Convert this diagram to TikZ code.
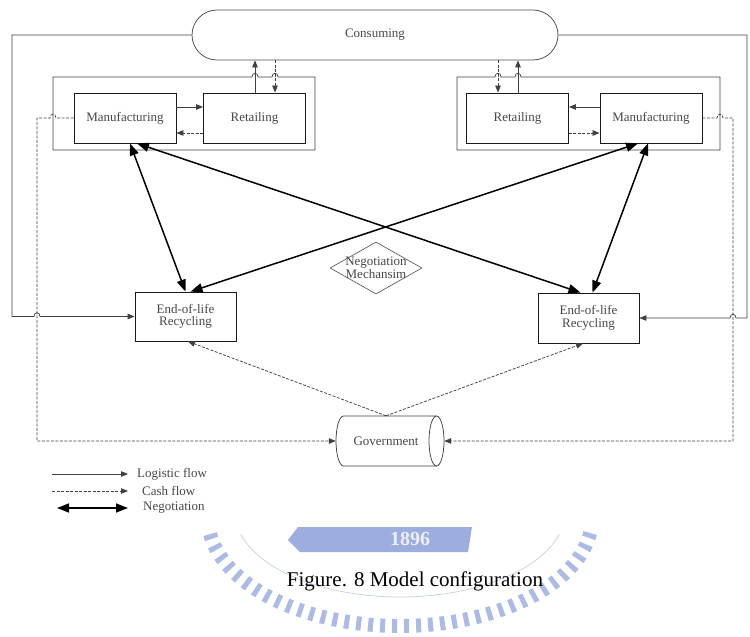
\documentclass[tikz,border=0pt]{standalone}
\usepackage{fontspec}
\setmainfont{Liberation Serif}
\usetikzlibrary{arrows.meta,shapes.geometric}
\definecolor{wmblue}{RGB}{105,130,205}
\begin{document}
\begin{tikzpicture}[x=1pt,y=-1pt,
  ln/.style={draw=black!75, line width=0.75pt},
  txt/.style={text=black!72, font=\fontsize{13}{12.5}\selectfont},
  box/.style={draw=black!90, line width=0.8pt, inner sep=0pt, txt, align=center, minimum width=102pt, minimum height=50pt},
  logi/.style={ln, -{Triangle[length=7pt,width=5.5pt]}},
  cash/.style={ln, dash pattern=on 3pt off 1.5pt, -{Triangle[length=7pt,width=5.5pt]}},
  nego/.style={draw=black, line width=1.5pt, {Triangle[length=12pt,width=9pt]}-{Triangle[length=12pt,width=9pt]}},
]
\useasboundingbox (0,0) rectangle (750,637);

% watermark
\begin{scope}
  \clip (0,527) rectangle (750,637);
  \draw[wmblue, opacity=0.55, line width=14pt, dash pattern=on 5pt off 7pt]
    plot[domain=8:172, samples=80, variable=\t] ({400+192*cos(\t)}, {518+108*sin(\t)});
  \draw[wmblue, opacity=0.35, line width=0.8pt]
    plot[domain=15:165, samples=60, variable=\t] ({400+165*cos(\t)}, {512+85*sin(\t)});
  \fill[wmblue, opacity=0.65] (298,527) -- (472,527) -- (468,552) -- (300,552) -- (288,540) -- cycle;
  \node[text=white, opacity=0.8, font=\bfseries\fontsize{20}{20}\selectfont] (wmtxt) at (410,539) {1896};
\end{scope}

% nodes
\node[draw=black!70, line width=0.75pt, rounded corners=25pt, minimum width=366pt, minimum height=50pt, txt] (cons) at (375,35) {Consuming};
\node[box] (manL) at (125,118) {Manufacturing};
\node[box] (retL) at (254.5,118) {Retailing};
\node[box] (retR) at (517.5,118) {Retailing};
\node[box] (manR) at (651,118) {Manufacturing};
\node[box, minimum width=101pt, minimum height=49pt] (recL) at (185.5,316.5) {End-of-life\\Recycling};
\node[box, minimum width=101pt, minimum height=50pt] (recR) at (588.5,318) {End-of-life\\Recycling};
\node[diamond, draw=black!70, line width=0.6pt, minimum width=92pt, minimum height=52pt, inner sep=0pt] (negm) at (376,268) {};
\node[txt, align=center, inner sep=0pt] (negt) at (376,268) {Negotiation\\Mechansim};
\node[minimum width=108pt, minimum height=50pt, inner sep=0pt, txt] (gov) at (390,441) {\hspace*{-8pt}Government};

% government cylinder
\draw[ln] (436.5,416) -- (343.5,416) .. controls (339.4,416) and (336,427.2) .. (336,441)
  .. controls (336,454.8) and (339.4,466) .. (343.5,466) -- (436.5,466);
\draw[ln] (436.5,441) ellipse [x radius=7.5pt, y radius=25pt];

% outer boxes with jumps
\draw[ln] (53,77) -- (252,77) .. controls (252,72) and (258,72) .. (258,77)
  -- (272,77) .. controls (272,72) and (278,72) .. (278,77) -- (315,77) -- (315,150) -- (53,150) -- cycle;
\draw[ln] (457,77) -- (495,77) .. controls (495,72) and (501,72) .. (501,77)
  -- (515,77) .. controls (515,72) and (521,72) .. (521,77) -- (720,77) -- (720,150) -- (457,150) -- cycle;

% left flows
\draw[logi] ([yshift=11pt]manL.east) -- ([yshift=11pt]retL.west);
\draw[cash] ([yshift=-15pt]retL.west) -- ([yshift=-15pt]manL.east);
\coordinate (lup) at ([xshift=0.5pt]retL.north);
\coordinate (ldn) at ([xshift=20.5pt]retL.north);
\draw[logi] (lup) -- (lup |- cons.south);
\draw[cash] (ldn |- cons.south) -- (ldn);

% right flows
\draw[logi] ([yshift=11pt]manR.west) -- ([yshift=11pt]retR.east);
\draw[cash] ([yshift=-15pt]retR.east) -- ([yshift=-15pt]manR.west);
\coordinate (rup) at ([xshift=0.5pt]retR.north);
\coordinate (rdn) at ([xshift=-19.5pt]retR.north);
\draw[logi] (rup) -- (rup |- cons.south);
\draw[cash] (rdn |- cons.south) -- (rdn);

% consuming to recycling
\draw[logi] (cons.west) -- (12,35) -- (12,316.5) -- (34,316.5) .. controls (34,311.5) and (40,311.5) .. (40,316.5) -- (recL.west);
\draw[logi] (cons.east) -- (747,35) -- (747,318) -- (736,318) .. controls (736,313) and (730,313) .. (730,318) -- (recR.east);

% cash to government
\draw[cash] (manL.west) -- (56,118) .. controls (56,113) and (50,113) .. (50,118) -- (37,118) |- (gov.west);
\draw[cash] (manR.east) -- (717,118) .. controls (717,113) and (723,113) .. (723,118) -- (733,118) |- (gov.east);
\coordinate (apex) at ([xshift=-4pt]gov.north);
\draw[cash] (apex) -- ([xshift=2.5pt]recL.south);
\draw[cash] (apex) -- ([xshift=-5.5pt]recR.south);

% negotiation
\draw[nego] ([xshift=5pt]manL.south) -- (recL.north);
\draw[nego] ([xshift=12pt]manL.south) -- ([xshift=-8pt]recR.north);
\draw[nego] ([xshift=-13pt]manR.south) -- ([xshift=5pt]recL.north);
\draw[nego] ([xshift=-3pt]manR.south) -- ([xshift=4pt]recR.north);

% legend
\node[txt, anchor=west, inner sep=0pt] (lg1) at (137,474) {Logistic flow};
\node[txt, anchor=west, inner sep=0pt] (lg2) at (142,491) {Cash flow};
\node[txt, anchor=west, inner sep=0pt] (lg3) at (143,508) {Negotiation};
\coordinate (s1) at (52,474);
\coordinate (s2) at (52,491);
\coordinate (s3) at (57,508);
\draw[logi] (s1) -- ([xshift=-9pt]lg1.west);
\draw[cash] (s2) -- ([xshift=-14pt]lg2.west);
\draw[nego] (s3) -- ([xshift=-15pt]lg3.west);

% caption
\node[font=\fontsize{21}{21}\selectfont] (cap) at (415,581) {Figure. 8 Model configuration};
\end{tikzpicture}
\end{document}
